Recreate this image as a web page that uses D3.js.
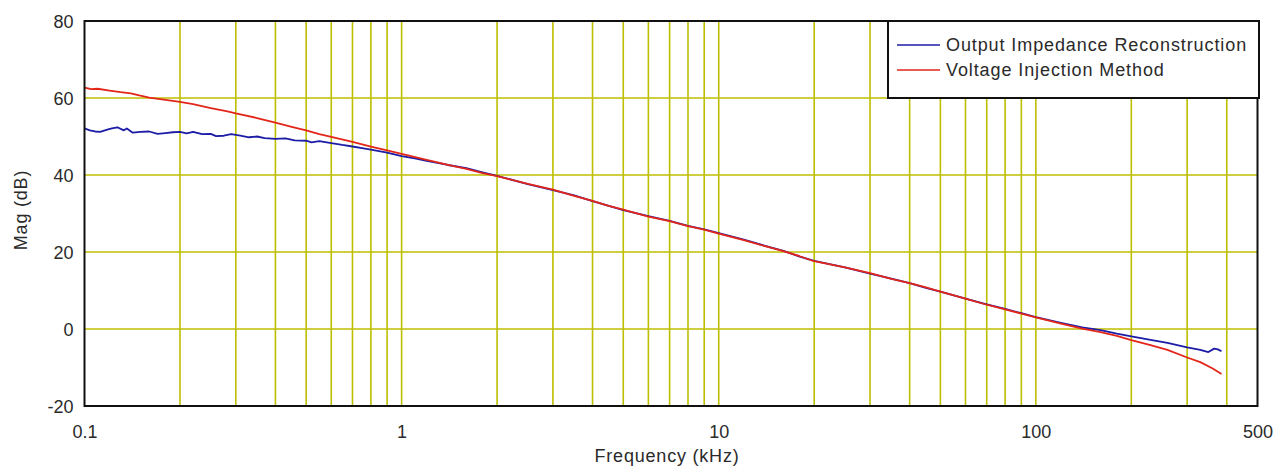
<!DOCTYPE html>
<html>
<head>
<meta charset="utf-8">
<script src="https://cdn.jsdelivr.net/npm/d3@7"></script>
<style>
  html, body { margin: 0; padding: 0; background: #fff; }
  svg { display: block; }
  text { font-family: "Liberation Sans", Arial, sans-serif; fill: #2a2a2a; }
</style>
</head>
<body>
<svg id="chart" width="1279" height="467"></svg>
<script>
// ---- data ----
const seriesNames = ["Output Impedance Reconstruction", "Voltage Injection Method"];
const seriesColors = ["#1c1ca6", "#e2261a"];

const blueFreq = [0.1, 0.104, 0.108, 0.112, 0.118, 0.122, 0.127, 0.133, 0.136, 0.142, 0.15, 0.16, 0.17, 0.18, 0.19, 0.2, 0.21, 0.22, 0.235, 0.25, 0.26, 0.275, 0.29, 0.31, 0.33, 0.35, 0.37, 0.4, 0.43, 0.46, 0.5, 0.52, 0.55, 0.6, 0.65, 0.7, 0.75, 0.8, 0.9, 1.0, 1.1, 1.2, 1.4, 1.6, 1.8, 2.0, 2.5, 3.0, 3.5, 4.0, 4.5, 5.0, 6.0, 7.0, 8.0, 9.0, 10, 12, 14, 16, 18, 20, 25, 30, 35, 40, 45, 50, 60, 70, 80, 90, 100, 120, 140, 160, 180, 200, 230, 260, 300, 330, 350, 365, 375, 385];
const blueMag = [52.1, 51.6, 51.3, 51.2, 51.8, 52.1, 52.4, 51.6, 52.1, 51.0, 51.2, 51.3, 50.7, 50.9, 51.1, 51.2, 50.8, 51.2, 50.6, 50.7, 50.1, 50.2, 50.6, 50.2, 49.8, 50.0, 49.6, 49.4, 49.5, 49.0, 48.9, 48.5, 48.8, 48.3, 47.8, 47.4, 47.0, 46.6, 45.8, 44.9, 44.3, 43.7, 42.6, 41.8, 40.7, 39.8, 37.6, 36.1, 34.7, 33.2, 32.0, 30.9, 29.3, 28.1, 26.8, 25.9, 24.9, 23.2, 21.6, 20.3, 18.8, 17.7, 16.0, 14.4, 13.1, 11.9, 10.7, 9.7, 7.9, 6.4, 5.2, 4.1, 3.1, 1.6, 0.4, -0.3, -1.2, -1.9, -2.8, -3.6, -4.8, -5.4, -6.0, -5.1, -5.3, -5.8];

const redFreq = [0.1, 0.105, 0.11, 0.12, 0.13, 0.14, 0.15, 0.16, 0.18, 0.2, 0.22, 0.25, 0.28, 0.3, 0.35, 0.4, 0.45, 0.5, 0.55, 0.6, 0.7, 0.8, 0.9, 1.0, 1.2, 1.4, 1.6, 1.8, 2.0, 2.5, 3.0, 3.5, 4.0, 4.5, 5.0, 6.0, 7.0, 8.0, 9.0, 10, 12, 14, 16, 18, 20, 25, 30, 35, 40, 45, 50, 60, 70, 80, 90, 100, 120, 140, 160, 180, 200, 230, 260, 300, 330, 360, 385];
const redMag = [62.7, 62.3, 62.4, 61.9, 61.5, 61.2, 60.6, 60.1, 59.5, 59.0, 58.4, 57.4, 56.6, 56.0, 54.8, 53.6, 52.5, 51.6, 50.6, 49.9, 48.6, 47.4, 46.4, 45.5, 43.9, 42.6, 41.6, 40.5, 39.7, 37.7, 36.2, 34.6, 33.3, 32.0, 31.0, 29.2, 28.0, 26.7, 25.8, 24.8, 23.1, 21.5, 20.2, 18.9, 17.6, 16.0, 14.5, 13.0, 11.9, 10.8, 9.7, 7.9, 6.3, 5.1, 4.0, 3.0, 1.4, 0.1, -0.8, -1.8, -2.9, -4.2, -5.4, -7.4, -8.6, -10.2, -11.7];

const xTickValues = [0.1, 1, 10, 100, 500];
const xTickLabels = ["0.1", "1", "10", "100", "500"];
const yTickValues = [-20, 0, 20, 40, 60, 80];
const yTickLabels = ["-20", "0", "20", "40", "60", "80"];
const xGridValues = [0.2, 0.3, 0.4, 0.5, 0.6, 0.7, 0.8, 0.9, 1, 2, 3, 4, 5, 6, 7, 8, 9, 10, 20, 30, 40, 50, 60, 70, 80, 90, 100, 200, 300, 400];
const yGridValues = [0, 20, 40, 60];
const xTitle = "Frequency (kHz)";
const yTitle = "Mag (dB)";

// ---- layout ----
(function () {
const svg = d3.select("#chart");
const pL = 84.5, pR = 1257.5, pT = 21, pB = 406;
const x = d3.scaleLog().domain([0.1, 500]).range([pL, pR]);
const y = d3.scaleLinear().domain([-20, 80]).range([pB, pT]);

const gridColor = "#bebe00";

// grid
svg.append("g").selectAll("line").data(xGridValues).join("line")
  .attr("x1", d => x(d)).attr("x2", d => x(d))
  .attr("y1", pT).attr("y2", pB)
  .attr("stroke", gridColor).attr("stroke-width", 1.6);
svg.append("g").selectAll("line").data(yGridValues).join("line")
  .attr("x1", pL).attr("x2", pR)
  .attr("y1", d => y(d)).attr("y2", d => y(d))
  .attr("stroke", gridColor).attr("stroke-width", 1.6);

// series
const series = [
  {f: blueFreq, m: blueMag, c: seriesColors[0]},
  {f: redFreq, m: redMag, c: seriesColors[1]}
];
const line = d3.line().x(d => x(d[0])).y(d => y(d[1]));
series.forEach(s => {
  svg.append("path")
    .datum(s.f.map((f, i) => [f, s.m[i]]))
    .attr("d", line)
    .attr("fill", "none")
    .attr("stroke", s.c)
    .attr("stroke-width", 1.8)
    .attr("stroke-linejoin", "round");
});

// frame
svg.append("rect")
  .attr("x", pL).attr("y", pT)
  .attr("width", pR - pL).attr("height", pB - pT)
  .attr("fill", "none").attr("stroke", "#111").attr("stroke-width", 2);

// axes (labels only)
const xAxis = d3.axisBottom(x).tickValues(xTickValues)
  .tickFormat((d, i) => xTickLabels[i]).tickSize(0).tickPadding(0);
const gx = svg.append("g").attr("transform", `translate(0,${pB})`).call(xAxis);
gx.select(".domain").remove();
gx.selectAll("text").attr("dy", null).attr("y", 32)
  .style("font-size", "18px").style("font-family", "Liberation Sans, Arial, sans-serif")
  .attr("fill", "#2a2a2a");

const yAxis = d3.axisLeft(y).tickValues(yTickValues)
  .tickFormat((d, i) => yTickLabels[i]).tickSize(0).tickPadding(0);
const gy = svg.append("g").attr("transform", `translate(${pL},0)`).call(yAxis);
gy.select(".domain").remove();
gy.selectAll("text").attr("x", -11).attr("dy", "0.35em")
  .style("font-size", "18px").style("font-family", "Liberation Sans, Arial, sans-serif")
  .attr("fill", "#2a2a2a");

// titles
svg.append("text").attr("x", 667).attr("y", 462).attr("text-anchor", "middle")
  .style("font-size", "18px").style("letter-spacing", "0.8px").text(xTitle);
svg.append("text").attr("transform", "translate(27,210) rotate(-90)")
  .attr("text-anchor", "middle")
  .style("font-size", "18px").style("letter-spacing", "0.8px").text(yTitle);

// legend
const lg = svg.append("g");
lg.append("rect").attr("x", 888).attr("y", 21).attr("width", 371).attr("height", 77)
  .attr("fill", "#fff").attr("stroke", "#111").attr("stroke-width", 2);
const legendY = [45, 70];
seriesNames.forEach((n, i) => {
  lg.append("line").attr("x1", 897).attr("x2", 940)
    .attr("y1", legendY[i]).attr("y2", legendY[i])
    .attr("stroke", seriesColors[i]).attr("stroke-width", 1.6);
  lg.append("text").attr("x", 946).attr("y", legendY[i]).attr("dy", "0.35em")
    .style("font-size", "18px").style("letter-spacing", "0.9px").text(n);
});
})();
</script>
</body>
</html>
